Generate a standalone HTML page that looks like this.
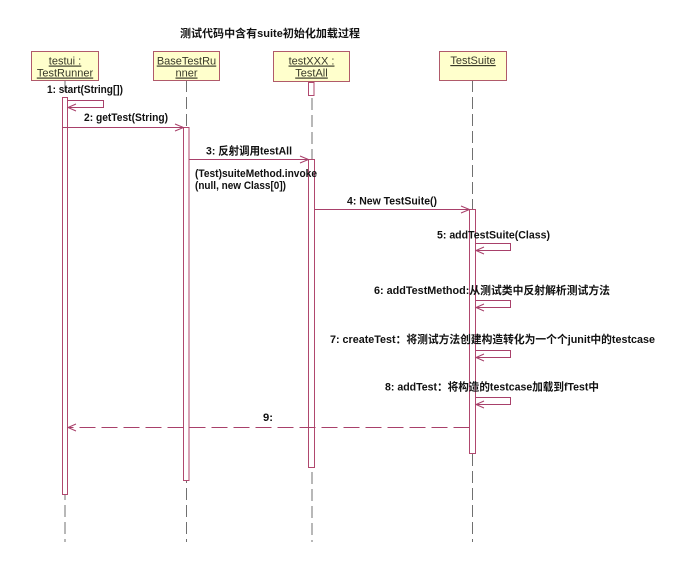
<!DOCTYPE html>
<html><head><meta charset="utf-8"><style>
html,body{margin:0;padding:0;background:#fff;}
svg{display:block;}
text{font-family:"Liberation Sans","Noto Sans CJK SC",sans-serif;}
.lbl{font-size:11px;font-weight:bold;fill:#111;}
.bx{font-size:11px;fill:#3a3a2a;text-decoration:underline;}
</style></head><body>
<svg width="690" height="567" viewBox="0 0 690 567" xmlns="http://www.w3.org/2000/svg">
<rect width="690" height="567" fill="#fff"/>
<text class="lbl" x="180" y="37" textLength="180" lengthAdjust="spacingAndGlyphs">测试代码中含有suite初始化加载过程</text>

<!-- lifelines -->
<g stroke="#707070" stroke-width="1" stroke-dasharray="12,5" fill="none">
<line x1="65" y1="80" x2="65" y2="542"/>
<line x1="186.5" y1="80" x2="186.5" y2="542"/>
<line x1="312" y1="81" x2="312" y2="542"/>
<line x1="472.5" y1="80" x2="472.5" y2="542"/>
</g>

<!-- boxes -->
<g fill="#ffffcc" stroke="#b05a6a" stroke-width="1">
<rect x="31.5" y="51.5" width="67" height="29"/>
<rect x="153.5" y="51.5" width="66" height="29"/>
<rect x="273.5" y="51.5" width="76" height="30"/>
<rect x="439.5" y="51.5" width="67" height="29"/>
</g>
<g class="bx" text-anchor="middle">
<text class="bx" x="65" y="64.5">testui :</text>
<text class="bx" x="65" y="76.5">TestRunner</text>
<text class="bx" x="186.5" y="64.5">BaseTestRu</text>
<text class="bx" x="186.5" y="76.5">nner</text>
<text class="bx" x="311.5" y="64.5">testXXX :</text>
<text class="bx" x="311.5" y="76.5">TestAll</text>
<text class="bx" x="473" y="64">TestSuite</text>
</g>

<!-- activations -->
<g fill="#fff" stroke="#b0486e" stroke-width="1">
<rect x="62.5" y="97.5" width="5" height="397"/>
<rect x="183.5" y="127.5" width="5.5" height="353"/>
<rect x="308.5" y="82.5" width="5.5" height="13"/>
<rect x="308.5" y="159.5" width="6" height="308"/>
<rect x="469.5" y="209.5" width="6" height="244"/>
</g>

<!-- messages -->
<g stroke="#a8406a" stroke-width="1" fill="none">
<!-- 1 self -->
<polyline points="67.5,100.5 103.5,100.5 103.5,107.5 68,107.5"/>
<polyline points="76,104 68,107.5 76,111"/>
<!-- 2 -->
<line x1="62" y1="127.5" x2="183.5" y2="127.5"/>
<polyline points="175,124 183.5,127.5 175,131"/>
<!-- 3 -->
<line x1="189" y1="159.5" x2="308.5" y2="159.5"/>
<polyline points="300,156 308.5,159.5 300,163"/>
<!-- 4 -->
<line x1="314.5" y1="209.5" x2="469.5" y2="209.5"/>
<polyline points="461,206 469.5,209.5 461,213"/>
<!-- 5 -->
<polyline points="475.5,243.5 510.5,243.5 510.5,250.5 476,250.5"/>
<polyline points="484,247 476,250.5 484,254"/>
<!-- 6 -->
<polyline points="475.5,300.5 510.5,300.5 510.5,307.5 476,307.5"/>
<polyline points="484,304 476,307.5 484,311"/>
<!-- 7 -->
<polyline points="475.5,350.5 510.5,350.5 510.5,357.5 476,357.5"/>
<polyline points="484,354 476,357.5 484,361"/>
<!-- 8 -->
<polyline points="475.5,397.5 510.5,397.5 510.5,404.5 476,404.5"/>
<polyline points="484,401 476,404.5 484,408"/>
<!-- 9 return -->
<line x1="469.5" y1="427.5" x2="68" y2="427.5" stroke-dasharray="16,6"/>
<polyline points="76,424 68,427.5 76,431"/>
</g>

<!-- labels -->
<text class="lbl" x="47" y="93" textLength="76" lengthAdjust="spacingAndGlyphs">1: start(String[])</text>
<text class="lbl" x="84" y="121" textLength="84" lengthAdjust="spacingAndGlyphs">2: getTest(String)</text>
<text class="lbl" x="206" y="154.5" textLength="86" lengthAdjust="spacingAndGlyphs">3: 反射调用testAll</text>
<text class="lbl" x="195" y="177" textLength="122" lengthAdjust="spacingAndGlyphs">(Test)suiteMethod.invoke</text>
<text class="lbl" x="195" y="189" textLength="91" lengthAdjust="spacingAndGlyphs">(null, new Class[0])</text>
<text class="lbl" x="347" y="204.5" textLength="90" lengthAdjust="spacingAndGlyphs">4: New TestSuite()</text>
<text class="lbl" x="437" y="238.5" textLength="113" lengthAdjust="spacingAndGlyphs">5: addTestSuite(Class)</text>
<text class="lbl" x="374" y="294" textLength="236" lengthAdjust="spacingAndGlyphs">6: addTestMethod:从测试类中反射解析测试方法</text>
<text class="lbl" x="330" y="343" textLength="325" lengthAdjust="spacingAndGlyphs">7: createTest：将测试方法创建构造转化为一个个junit中的testcase</text>
<text class="lbl" x="385" y="390.5" textLength="214" lengthAdjust="spacingAndGlyphs">8: addTest：将构造的testcase加载到fTest中</text>
<text class="lbl" x="263" y="421" textLength="10" lengthAdjust="spacingAndGlyphs">9:</text>
</svg>
</body></html>
